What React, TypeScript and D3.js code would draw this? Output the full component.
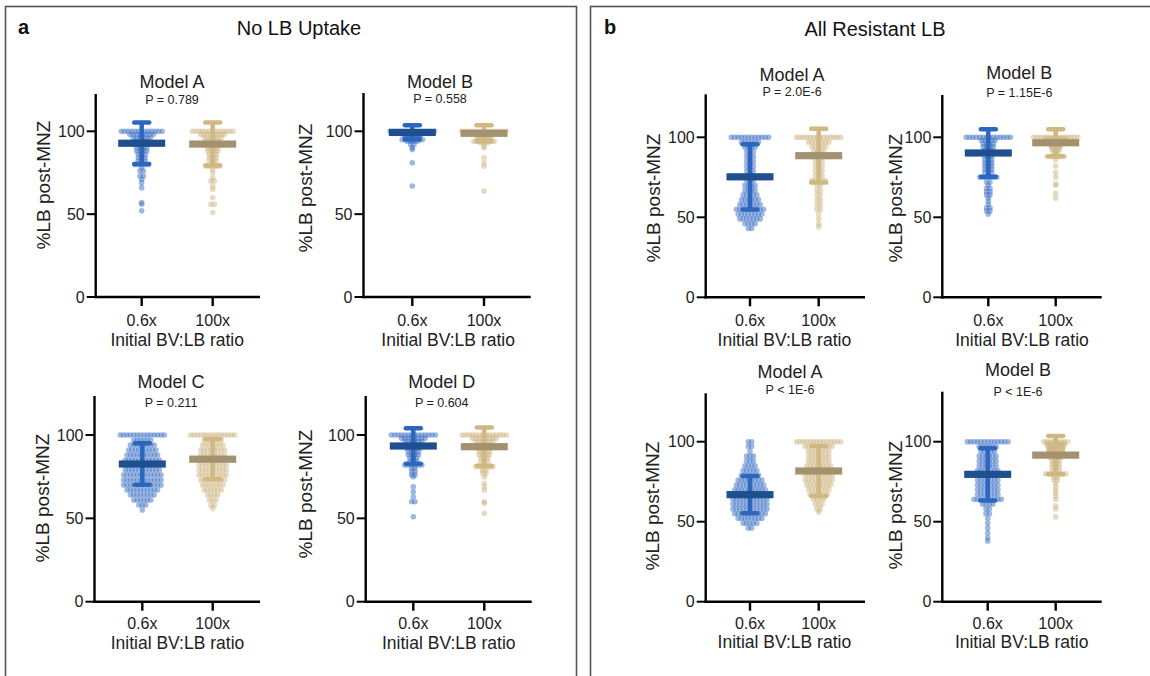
import React from 'react';
import * as d3 from 'd3';

type Counts = [number, number][];

// ---------- text ----------
const categories = ['0.6x', '100x'];
const yTicks = [0, 50, 100];
const sectionTitles = ['No LB Uptake', 'All Resistant LB'];
const sectionLetters = ['a', 'b'];
const modelTitles = ['Model A', 'Model B', 'Model C', 'Model D', 'Model A', 'Model B', 'Model A', 'Model B'];
const pLabels = ['P = 0.789', 'P = 0.558', 'P = 0.211', 'P = 0.604', 'P = 2.0E-6', 'P = 1.15E-6', 'P < 1E-6', 'P < 1E-6'];
const xTitle = 'Initial BV:LB ratio';
const yTitle = '%LB post-MNZ';

// ---------- data: [value, number of simulations] ----------
const noUptakeA_06: Counts = [[100,13],[98,8],[96,6],[94,5],[92,5],[90,4],[88,4],[86,3],[84,3],[82,3],[80,5],[78,1],[76,2],[73,2],[71,1],[69,1],[66,1],[57,1],[56,1],[52,1]];
const noUptakeA_100: Counts = [[100,13],[98,8],[96,6],[94,5],[92,5],[90,4],[88,4],[86,3],[84,3],[82,3],[79,5],[77,1],[75,1],[72,1],[70,2],[67,1],[65,1],[60,1],[56,2],[51,1]];
const noUptakeB_06: Counts = [[100,14],[99,7],[98,6],[97,5],[96,5],[95,7],[94,4],[92,2],[90,1],[89,1],[81,1],[67,1]];
const noUptakeB_100: Counts = [[100,14],[99,7],[98,6],[97,5],[96,5],[94,7],[93,3],[91,1],[90,1],[84,1],[81,1],[79,1],[64,1]];
const noUptakeC_06: Counts = [[100,14],[97,6],[94,8],[91,9],[88,10],[85,11],[82,11],[79,11],[76,12],[73,12],[70,12],[67,10],[64,8],[61,6],[58,3],[55,1]];
const noUptakeC_100: Counts = [[100,14],[97,6],[94,7],[91,8],[88,8],[85,9],[82,9],[79,9],[76,9],[73,8],[70,7],[67,6],[64,4],[61,3],[58,2],[56,1]];
const noUptakeD_06: Counts = [[100,14],[98,8],[96,6],[94,5],[92,5],[90,4],[88,4],[86,3],[84,3],[82,6],[80,2],[78,2],[76,2],[75,1],[69,1],[66,1],[63,1],[60,2],[51,1]];
const noUptakeD_100: Counts = [[100,14],[98,8],[96,6],[94,5],[92,5],[90,4],[88,4],[86,3],[84,3],[81,6],[79,2],[77,2],[75,1],[71,1],[69,1],[67,1],[60,1],[59,1],[53,1]];
const resistA1_06: Counts = [[100,12],[97,6],[94,4],[91,3],[88,3],[85,3],[82,3],[79,3],[76,3],[73,3],[70,4],[67,4],[64,5],[61,6],[58,7],[55,9],[52,8],[49,7],[46,4],[43,2]];
const resistA1_100: Counts = [[100,14],[97,7],[94,5],[91,4],[88,3],[85,3],[82,3],[79,3],[76,3],[73,5],[70,2],[67,2],[64,2],[61,2],[58,2],[55,2],[52,1],[49,1],[46,1],[44,1]];
const resistB1_06: Counts = [[100,14],[98,5],[96,4],[94,4],[92,3],[90,3],[88,3],[86,3],[84,3],[82,3],[80,3],[78,3],[75,6],[72,2],[70,1],[68,2],[66,2],[64,2],[62,1],[60,1],[58,1],[56,2],[54,2],[52,1]];
const resistB1_100: Counts = [[100,14],[99,7],[98,6],[97,5],[96,5],[95,4],[94,3],[93,3],[92,3],[90,2],[88,6],[86,1],[82,1],[78,1],[75,1],[71,1],[70,1],[65,1],[62,1]];
const resistA2_06: Counts = [[100,2],[97,2],[94,1],[91,3],[88,3],[85,4],[82,5],[79,6],[76,8],[73,9],[70,10],[67,11],[64,11],[61,11],[58,11],[55,10],[52,8],[49,5],[46,2]];
const resistA2_100: Counts = [[100,14],[97,9],[94,7],[91,7],[88,7],[85,8],[82,9],[79,9],[76,9],[73,8],[70,7],[67,6],[64,4],[61,3],[58,2],[56,1]];
const resistB2_06: Counts = [[100,13],[97,6],[94,5],[91,6],[88,6],[85,6],[82,7],[79,7],[76,7],[73,7],[70,7],[67,7],[64,9],[61,4],[58,2],[55,2],[52,1],[49,1],[46,1],[43,1],[40,1],[38,1]];
const resistB2_100: Counts = [[100,8],[99,6],[98,6],[97,5],[96,5],[95,5],[94,5],[93,4],[92,4],[90,4],[88,3],[86,3],[84,3],[82,3],[80,7],[78,2],[76,2],[74,1],[72,1],[70,1],[68,1],[66,1],[64,1],[60,1],[58,1],[53,1]];

const lowRatioData = [noUptakeA_06, noUptakeB_06, noUptakeC_06, noUptakeD_06, resistA1_06, resistB1_06, resistA2_06, resistB2_06];
const highRatioData = [noUptakeA_100, noUptakeB_100, noUptakeC_100, noUptakeD_100, resistA1_100, resistB1_100, resistA2_100, resistB2_100];

const meanLow = [92.8, 99.3, 82.6, 93.4, 75.3, 90.2, 66.9, 79.6];
const meanHigh = [92.3, 98.8, 85.5, 93.0, 88.5, 96.6, 81.7, 91.6];
const sdLow = [12.5, 4.3, 12.4, 10.6, 20.4, 14.8, 11.6, 16.3];
const sdHigh = [13.0, 4.8, 12.1, 11.5, 16.8, 8.4, 15.6, 12.0];

// ---------- layout (pixels) ----------
const layout = [
  { ax: 95.7, y0: 297, y100: 131.3, top: 94, t1: 141.7, t2: 212.7, xEnd: 260, titleX: 172, titleY: 82, pY: 100, tickY: 320, xTitleY: 340, yLabX: 43, yLabY: 185 },
  { ax: 363.5, y0: 297, y100: 131.3, top: 93, t1: 412.3, t2: 484, xEnd: 530.7, titleX: 440, titleY: 81.7, pY: 99.3, tickY: 320, xTitleY: 340, yLabX: 305, yLabY: 188 },
  { ax: 94.5, y0: 601.7, y100: 435, top: 396, t1: 142.3, t2: 212.7, xEnd: 260, titleX: 171, titleY: 381.7, pY: 402.7, tickY: 623, xTitleY: 642.7, yLabX: 42, yLabY: 498 },
  { ax: 365.7, y0: 601.7, y100: 435, top: 396, t1: 413.3, t2: 484.3, xEnd: 531.7, titleX: 441.7, titleY: 381.7, pY: 402.7, tickY: 623, xTitleY: 642.7, yLabX: 305, yLabY: 494 },
  { ax: 705.7, y0: 297.3, y100: 137.3, top: 94.3, t1: 750, t2: 818.7, xEnd: 865, titleX: 792, titleY: 75, pY: 91.7, tickY: 320, xTitleY: 340, yLabX: 653, yLabY: 198 },
  { ax: 942.3, y0: 297.3, y100: 137.3, top: 95, t1: 988.3, t2: 1055.7, xEnd: 1101.7, titleX: 1019.3, titleY: 73.3, pY: 93.3, tickY: 320, xTitleY: 340, yLabX: 895, yLabY: 198 },
  { ax: 705.7, y0: 601.7, y100: 441.7, top: 393.3, t1: 750, t2: 818.7, xEnd: 865, titleX: 790, titleY: 371.7, pY: 390, tickY: 623.3, xTitleY: 641.7, yLabX: 652, yLabY: 506 },
  { ax: 942.3, y0: 601.7, y100: 441.7, top: 391.7, t1: 987.7, t2: 1055.7, xEnd: 1101.7, titleX: 1018, titleY: 370, pY: 391.7, tickY: 623.3, xTitleY: 641.7, yLabX: 895, yLabY: 505 },
];

const FONT = '"Liberation Sans", Arial, Helvetica, sans-serif';
const colors = {
  lowDot: '#3e72c6', lowWhisker: '#2c66be', lowMean: '#1f4f8f',
  highDot: '#cdb584', highWhisker: '#d0b883', highMean: '#a39170',
};
const DOT_R = 2.8;
const DOT_STEP = 3.4;
const MEAN_W = 47;
const CAP_W = 15;

function Panel({ i }: { i: number }) {
  const L = layout[i];
  const y = d3.scaleLinear().domain([0, 100]).range([L.y0, L.y100]);
  const x = d3.scalePoint<string>().domain(categories).range([L.t1, L.t2]).padding(0);
  const groups = [
    { cat: categories[0], data: lowRatioData[i], mean: meanLow[i], sd: sdLow[i], dot: colors.lowDot, wh: colors.lowWhisker, mc: colors.lowMean },
    { cat: categories[1], data: highRatioData[i], mean: meanHigh[i], sd: sdHigh[i], dot: colors.highDot, wh: colors.highWhisker, mc: colors.highMean },
  ];
  return (
    <g>
      {groups.map((g, gi) => {
        const cx = x(g.cat) as number;
        const pts: { px: number; py: number }[] = [];
        g.data.forEach(([v, n]) => {
          for (let k = 0; k < n; k++) pts.push({ px: cx + (k - (n - 1) / 2) * DOT_STEP, py: y(v) });
        });
        return (
          <g key={'d' + gi} fill={g.dot} fillOpacity={0.5}>
            {pts.map((p, k) => <circle key={k} cx={p.px} cy={p.py} r={DOT_R} />)}
          </g>
        );
      })}
      {groups.map((g, gi) => {
        const cx = x(g.cat) as number;
        const yt = y(g.mean + g.sd), yb = y(g.mean - g.sd), ym = y(g.mean);
        return (
          <g key={'e' + gi}>
            <line x1={cx} x2={cx} y1={yt} y2={yb} stroke={g.wh} strokeWidth={4.5} />
            <line x1={cx - CAP_W / 2} x2={cx + CAP_W / 2} y1={yt} y2={yt} stroke={g.wh} strokeWidth={4.5} strokeLinecap="round" />
            <line x1={cx - CAP_W / 2} x2={cx + CAP_W / 2} y1={yb} y2={yb} stroke={g.wh} strokeWidth={4.5} strokeLinecap="round" />
            <rect x={cx - MEAN_W / 2} y={ym - 3.6} width={MEAN_W} height={7.2} fill={g.mc} />
          </g>
        );
      })}
      <line x1={L.ax} x2={L.ax} y1={L.top} y2={L.y0 + 1.2} stroke="#000" strokeWidth={2.4} />
      <line x1={L.ax - 1.2} x2={L.xEnd} y1={L.y0} y2={L.y0} stroke="#000" strokeWidth={2.4} />
      {yTicks.map(t => (
        <g key={'yt' + t}>
          <line x1={L.ax - 9} x2={L.ax} y1={y(t)} y2={y(t)} stroke="#000" strokeWidth={2} />
          <text x={L.ax - 11} y={y(t)} textAnchor="end" dominantBaseline="central" fontSize={16} fontFamily={FONT} fill="#222">{t}</text>
        </g>
      ))}
      {categories.map(c => (
        <g key={'xt' + c}>
          <line x1={x(c)} x2={x(c)} y1={L.y0} y2={L.y0 + 9} stroke="#000" strokeWidth={2.4} />
          <text x={x(c)} y={L.tickY} textAnchor="middle" dominantBaseline="central" fontSize={16} fontFamily={FONT} fill="#222">{c}</text>
        </g>
      ))}
      <text x={(L.t1 + L.t2) / 2} y={L.xTitleY} textAnchor="middle" dominantBaseline="central" fontSize={17.5} fontFamily={FONT} fill="#222">{xTitle}</text>
      <text transform={`translate(${L.yLabX},${L.yLabY}) rotate(-90)`} textAnchor="middle" dominantBaseline="central" fontSize={19} fontFamily={FONT} fill="#222">{yTitle}</text>
      <text x={L.titleX} y={L.titleY} textAnchor="middle" dominantBaseline="central" fontSize={18} fontFamily={FONT} fill="#222">{modelTitles[i]}</text>
      <text x={L.titleX} y={L.pY} textAnchor="middle" dominantBaseline="central" fontSize={12.5} fontFamily={FONT} fill="#222">{pLabels[i]}</text>
    </g>
  );
}

export default function App() {
  return (
    <svg width={1150} height={676} style={{ position: 'absolute', left: 0, top: 0, background: '#fff' }}>
      <rect x={0} y={0} width={1150} height={676} fill="#fff" />
      <rect x={5.5} y={6.5} width={571} height={700} fill="none" stroke="#555" strokeWidth={1.6} />
      <rect x={590.5} y={6.5} width={600} height={700} fill="none" stroke="#555" strokeWidth={1.6} />
      <text x={18} y={27} dominantBaseline="central" fontSize={20} fontWeight="bold" fontFamily={FONT} fill="#111">{sectionLetters[0]}</text>
      <text x={604} y={27} dominantBaseline="central" fontSize={20} fontWeight="bold" fontFamily={FONT} fill="#111">{sectionLetters[1]}</text>
      <text x={299} y={28} textAnchor="middle" dominantBaseline="central" fontSize={20} fontFamily={FONT} fill="#111">{sectionTitles[0]}</text>
      <text x={875} y={29} textAnchor="middle" dominantBaseline="central" fontSize={20} fontFamily={FONT} fill="#111">{sectionTitles[1]}</text>
      {layout.map((_, i) => <Panel key={i} i={i} />)}
    </svg>
  );
}
